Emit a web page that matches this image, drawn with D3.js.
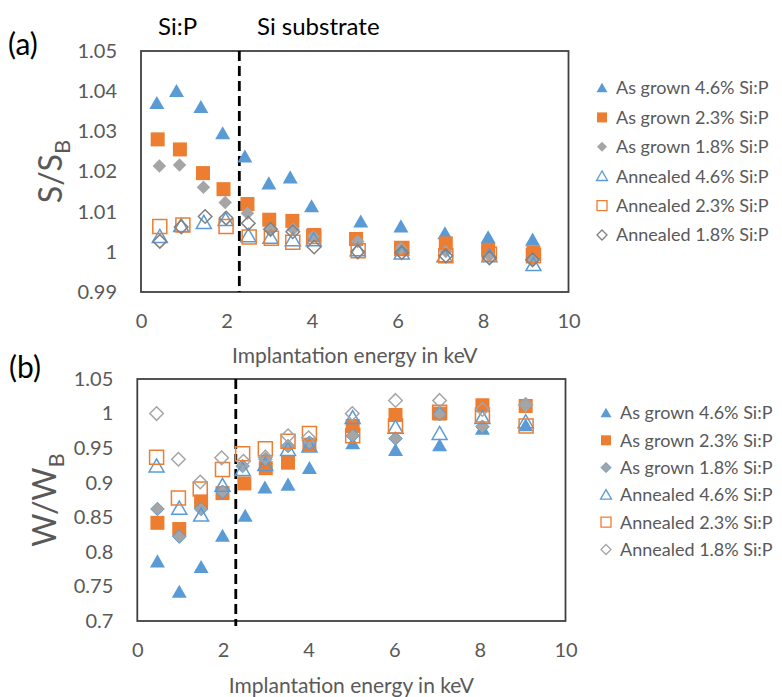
<!DOCTYPE html>
<html>
<head>
<meta charset="utf-8">
<script src="https://cdn.jsdelivr.net/npm/d3@7"></script>
<style>
  body { margin: 0; background: #fff; }
  svg { display: block; }
  text { font-family: Lato, "Liberation Sans", sans-serif; }
</style>
</head>
<body>
<svg id="chart" width="782" height="697"></svg>
<script>
// ---------- data ----------
const seriesLabels = [
  "As grown 4.6% Si:P", "As grown 2.3% Si:P", "As grown 1.8% Si:P",
  "Annealed 4.6% Si:P", "Annealed 2.3% Si:P", "Annealed 1.8% Si:P"
];

// Panel (a): S/S_B versus implantation energy (keV)
const sGrown46E = [0.37, 0.83, 1.40, 1.91, 2.43, 2.99, 3.49, 3.99, 5.14, 6.08, 7.11, 8.12, 9.16];
const sGrown46  = [1.037, 1.040, 1.036, 1.0295, 1.0237, 1.017, 1.0185, 1.0113, 1.0075, 1.0063, 1.0046, 1.0036, 1.003];
const sGrown23E = [0.39, 0.91, 1.45, 1.93, 2.49, 3.00, 3.54, 4.05, 5.03, 6.10, 7.13, 8.12, 9.18];
const sGrown23  = [1.028, 1.0255, 1.0196, 1.0156, 1.0119, 1.008, 1.0077, 1.0042, 1.0032, 1.0009, 1.0021, 1.0005, 0.9998];
const sGrown18E = [0.43, 0.90, 1.46, 1.97, 2.49, 3.02, 3.56, 4.03, 5.07, 6.08, 7.13, 8.15, 9.16];
const sGrown18  = [1.0214, 1.0216, 1.0161, 1.0123, 1.0096, 1.0056, 1.0056, 1.0038, 1.0026, 1.0009, 1.0001, 0.999, 0.998];
const sAnn46E   = [0.44, 0.94, 1.47, 1.98, 2.51, 3.03, 3.55, 4.04, 5.07, 6.10, 7.10, 8.15, 9.18];
const sAnn46    = [1.0038, 1.0065, 1.0073, 1.008, 1.004, 1.0036, 1.003, 1.003, 1.0005, 0.9997, 0.999, 0.999, 0.9968];
const sAnn23E   = [0.44, 0.98, 1.99, 2.53, 3.05, 3.55, 4.04, 5.08, 6.10, 7.13, 8.15, 9.18];
const sAnn23    = [1.0063, 1.0067, 1.0063, 1.0037, 1.0034, 1.0024, 1.0038, 1.0003, 1.0008, 0.999, 0.9994, 0.999];
const sAnn18E   = [0.44, 0.94, 1.50, 1.99, 2.51, 3.03, 3.55, 4.05, 5.07, 6.10, 7.13, 8.15, 9.16];
const sAnn18    = [1.0026, 1.0062, 1.0088, 1.0084, 1.0071, 1.0056, 1.005, 1.0012, 1.0, 0.9998, 0.999, 0.9985, 0.998];

// Panel (b): W/W_B versus implantation energy (keV)
const wGrown46E = [0.47, 0.98, 1.49, 1.99, 2.52, 2.98, 3.52, 4.02, 5.03, 6.03, 7.06, 8.06, 9.07];
const wGrown46  = [0.786, 0.742, 0.778, 0.823, 0.852, 0.893, 0.897, 0.921, 0.957, 0.947, 0.954, 0.978, 0.983];
const wGrown23E = [0.47, 0.98, 1.49, 1.99, 2.50, 3.00, 3.52, 4.02, 5.03, 6.03, 7.06, 8.06, 9.07];
const wGrown23  = [0.842, 0.833, 0.873, 0.885, 0.899, 0.921, 0.929, 0.955, 0.982, 0.998, 1.0, 1.012, 1.011];
const wGrown18E = [0.47, 0.98, 1.49, 1.99, 2.46, 2.99, 3.52, 4.02, 5.03, 6.03, 7.06, 8.06, 9.07];
const wGrown18  = [0.862, 0.822, 0.862, 0.887, 0.924, 0.934, 0.953, 0.958, 0.968, 0.964, 0.999, 0.981, 1.012];
const wAnn46E   = [0.45, 0.98, 1.49, 1.99, 2.46, 2.99, 3.52, 4.02, 5.03, 6.03, 7.06, 8.06, 9.07];
const wAnn46    = [0.924, 0.863, 0.853, 0.896, 0.919, 0.926, 0.948, 0.953, 0.994, 0.980, 0.971, 0.994, 0.988];
const wAnn23E   = [0.45, 0.96, 1.47, 1.99, 2.46, 2.99, 3.52, 4.02, 5.03, 6.03, 7.06, 8.06, 9.08];
const wAnn23    = [0.937, 0.878, 0.891, 0.919, 0.942, 0.949, 0.960, 0.971, 0.968, 0.982, 1.002, 0.998, 0.982];
const wAnn18E   = [0.45, 0.96, 1.47, 1.97, 2.48, 2.99, 3.52, 4.00, 5.02, 6.03, 7.06, 8.06, 9.07];
const wAnn18    = [1.0, 0.934, 0.901, 0.936, 0.931, 0.937, 0.968, 0.965, 1.0, 1.019, 1.019, 1.006, 1.013];

// Boundary between the Si:P layer and the Si substrate (keV)
const layerBoundary = 2.3;

// Axis ticks
const xTicks  = [0, 2, 4, 6, 8, 10];
const yTicksA = [0.99, 1.00, 1.01, 1.02, 1.03, 1.04, 1.05];
const yTicksB = [0.70, 0.75, 0.80, 0.85, 0.90, 0.95, 1.00, 1.05];

// ---------- styling ----------
const BLUE = "#5B9BD5", ORANGE = "#ED7D31", GREY = "#A5A5A5";

// marker style per series (same order as seriesLabels)
const styleA = [
  { shape: "tri",  fill: BLUE,   stroke: "none" },
  { shape: "sq",   fill: ORANGE, stroke: "none" },
  { shape: "dia",  fill: GREY,   stroke: "none" },
  { shape: "tri",  fill: "none", stroke: BLUE },
  { shape: "sq",   fill: "none", stroke: ORANGE },
  { shape: "dia",  fill: "none", stroke: "#808080" }
];
const styleB = [
  { shape: "tri",  fill: BLUE,   stroke: "none" },
  { shape: "sq",   fill: ORANGE, stroke: "none" },
  { shape: "dia",  fill: GREY,   stroke: BLUE },
  { shape: "tri",  fill: "none", stroke: BLUE },
  { shape: "sq",   fill: "none", stroke: ORANGE },
  { shape: "dia",  fill: "none", stroke: GREY }
];

// marker outline, w = overall width in px
function markerPath(shape, w) {
  const p = d3.path();
  if (shape === "tri") {
    const h = w * 0.87;
    p.moveTo(0, -h * 0.55); p.lineTo(w / 2, h * 0.45); p.lineTo(-w / 2, h * 0.45); p.closePath();
  } else if (shape === "sq") {
    p.rect(-w / 2, -w / 2, w, w);
  } else {
    p.moveTo(0, -w / 2); p.lineTo(w / 2, 0); p.lineTo(0, w / 2); p.lineTo(-w / 2, 0); p.closePath();
  }
  return p.toString();
}
const markerSize = { tri: 15, sq: 14, dia: 13.5 };
const legendSize = { tri: 11, sq: 10, dia: 10 };

const svg = d3.select("#chart");
const fmt = d => String(+d.toFixed(2));

function drawPanel(cfg) {
  const x = d3.scaleLinear().domain([0, 10]).range([cfg.left, cfg.right]);
  const y = d3.scaleLinear().domain(cfg.yDomain).range([cfg.bottom, cfg.top]);
  const g = svg.append("g");

  // y axis labels
  const ya = d3.axisLeft(y).tickValues(cfg.yTicks).tickFormat(fmt).tickSize(0).tickPadding(24);
  const yg = g.append("g").attr("transform", `translate(${cfg.left},0)`).call(ya);
  // x axis labels
  const xa = d3.axisBottom(x).tickValues(xTicks).tickFormat(d3.format("d")).tickSize(0).tickPadding(22);
  const xg = g.append("g").attr("transform", `translate(0,${cfg.bottom})`).call(xa);
  [yg, xg].forEach(a => {
    a.select(".domain").remove();
    a.selectAll("text").attr("fill", "#595959").style("font-size", "20px")
      .style("font-family", "Lato, 'Liberation Sans', sans-serif");
  });

  // x axis title
  g.append("text")
    .attr("x", (cfg.left + cfg.right) / 2).attr("y", cfg.xTitleY)
    .attr("text-anchor", "middle").attr("fill", "#595959").style("font-size", "21px")
    .text("Implantation energy in keV");

  // y axis title with subscript
  const yt = g.append("text")
    .attr("transform", `translate(${cfg.yTitleX},${(cfg.top + cfg.bottom) / 2}) rotate(-90)`)
    .attr("text-anchor", "middle").attr("fill", "#595959").style("font-size", "32px");
  yt.append("tspan").text(cfg.yTitle);
  yt.append("tspan").attr("dy", "0.35em").style("font-size", "22px").text(cfg.yTitleSub);

  // plot frame
  g.append("rect")
    .attr("x", cfg.left).attr("y", cfg.top)
    .attr("width", cfg.right - cfg.left).attr("height", cfg.bottom - cfg.top)
    .attr("fill", "none").attr("stroke", "#404040").attr("stroke-width", 1.8);

  // dashed layer boundary
  g.append("line")
    .attr("x1", x(layerBoundary)).attr("x2", x(layerBoundary))
    .attr("y1", cfg.top).attr("y2", cfg.bottom + cfg.dashExtra)
    .attr("stroke", "#000").attr("stroke-width", 2.8).attr("stroke-dasharray", "10,5");

  // markers
  cfg.series.forEach((s, i) => {
    const st = cfg.styles[i];
    const pts = s.e.map((e, k) => [e, s.v[k]]);
    g.append("g").selectAll("path").data(pts).join("path")
      .attr("transform", d => `translate(${x(d[0])},${y(d[1])})`)
      .attr("d", markerPath(st.shape, markerSize[st.shape]))
      .attr("fill", st.fill)
      .attr("stroke", st.stroke)
      .attr("stroke-width", st.fill === "none" ? 1.5 : 1);
  });

  // legend
  const lg = g.append("g");
  seriesLabels.forEach((lab, i) => {
    const st = cfg.styles[i];
    const ly = cfg.legendY + i * cfg.legendStep;
    lg.append("path")
      .attr("transform", `translate(${cfg.legendX},${ly})`)
      .attr("d", markerPath(st.shape, legendSize[st.shape]))
      .attr("fill", st.fill).attr("stroke", st.stroke)
      .attr("stroke-width", st.fill === "none" ? 1.3 : 1);
    lg.append("text")
      .attr("x", cfg.legendX + 14).attr("y", ly).attr("dy", "0.35em")
      .attr("fill", "#595959").style("font-size", "18px").text(lab);
  });
}

drawPanel({
  left: 141, right: 568.5, top: 51, bottom: 292,
  yDomain: [0.99, 1.05], yTicks: yTicksA,
  xTitleY: 363, yTitleX: 62, yTitle: "S/S", yTitleSub: "B",
  dashExtra: 0,
  legendX: 602, legendY: 88, legendStep: 29.4,
  styles: styleA,
  series: [
    { e: sGrown46E, v: sGrown46 }, { e: sGrown23E, v: sGrown23 }, { e: sGrown18E, v: sGrown18 },
    { e: sAnn46E, v: sAnn46 }, { e: sAnn23E, v: sAnn23 }, { e: sAnn18E, v: sAnn18 }
  ]
});

drawPanel({
  left: 137.3, right: 565.5, top: 379, bottom: 621,
  yDomain: [0.70, 1.05], yTicks: yTicksB,
  xTitleY: 693, yTitleX: 56, yTitle: "W/W", yTitleSub: "B",
  dashExtra: 5,
  legendX: 606, legendY: 413, legendStep: 27.3,
  styles: styleB,
  series: [
    { e: wGrown46E, v: wGrown46 }, { e: wGrown23E, v: wGrown23 }, { e: wGrown18E, v: wGrown18 },
    { e: wAnn46E, v: wAnn46 }, { e: wAnn23E, v: wAnn23 }, { e: wAnn18E, v: wAnn18 }
  ]
});

// panel letters and region labels
svg.append("text").attr("x", 8).attr("y", 55).style("font-size", "30px").attr("fill", "#000").text("(a)");
svg.append("text").attr("x", 9).attr("y", 378).style("font-size", "30px").attr("fill", "#000").text("(b)");
svg.append("text").attr("x", 158).attr("y", 35).style("font-size", "24px").attr("fill", "#000").text("Si:P");
svg.append("text").attr("x", 257).attr("y", 35).style("font-size", "24px").attr("fill", "#000").text("Si substrate");
</script>
</body>
</html>
